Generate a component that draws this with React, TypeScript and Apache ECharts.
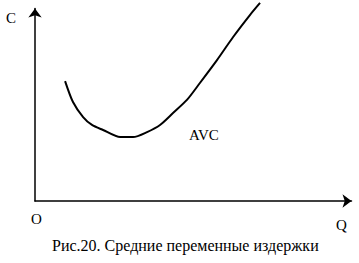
import React, { useEffect, useRef } from "react";
import * as echarts from "echarts";

// Output quantity Q (axis units) and average variable cost AVC (axis units)
const qValues = [9.5, 12.0, 15.2, 18.0, 21.5, 26.9, 31.0, 35.4, 39.5, 43.6, 48.0, 52.1, 57.5, 62.6, 67.9, 71.1];
const avcValues = [62.3, 51.4, 43.6, 39.5, 36.9, 33.2, 33.2, 35.8, 39.5, 45.7, 52.5, 61.3, 73.2, 85.2, 96.6, 102.9];

const yAxisLabel = "C";
const xAxisLabel = "Q";
const originLabel = "O";
const curveLabel = "AVC";
const caption = "Рис.20. Средние переменные издержки";

const FONT = "Liberation Serif";

export default function App() {
  const ref = useRef<HTMLDivElement>(null);
  useEffect(() => {
    if (!ref.current) return;
    const chart = echarts.init(ref.current, undefined, { renderer: "svg" });
    const axisLine = {
      show: true,
      onZero: false,
      symbol: ["none", "arrow"],
      symbolSize: [10, 9],
      lineStyle: { color: "#000", width: 1.5 },
    };
    const txt = (text: string, left: number, top: number, size = 15) => ({
      type: "text",
      left,
      top,
      style: { text, fontFamily: FONT, fontSize: size, fill: "#000" },
    });
    chart.setOption({
      animation: false,
      backgroundColor: "#fff",
      grid: { left: 35, right: 7.5, top: 8.5, bottom: 62, containLabel: false },
      xAxis: {
        type: "value",
        min: 0,
        max: 100,
        axisLine,
        axisTick: { show: false },
        axisLabel: { show: false },
        splitLine: { show: false },
      },
      yAxis: {
        type: "value",
        min: 0,
        max: 100,
        axisLine,
        axisTick: { show: false },
        axisLabel: { show: false },
        splitLine: { show: false },
      },
      series: [
        {
          type: "line",
          data: qValues.map((q, i) => [q, avcValues[i]]),
          smooth: 0.25,
          clip: false,
          showSymbol: false,
          lineStyle: { color: "#000", width: 2 },
        },
      ],
      graphic: [
        txt(yAxisLabel, 6, 10),
        txt(originLabel, 31, 211),
        txt(xAxisLabel, 336, 217),
        txt(curveLabel, 189, 127),
        txt(caption, 52, 237, 16),
      ],
    });
    return () => chart.dispose();
  }, []);
  return <div ref={ref} style={{ width: 359, height: 263, position: "absolute", left: 0, top: 0 }} />;
}
